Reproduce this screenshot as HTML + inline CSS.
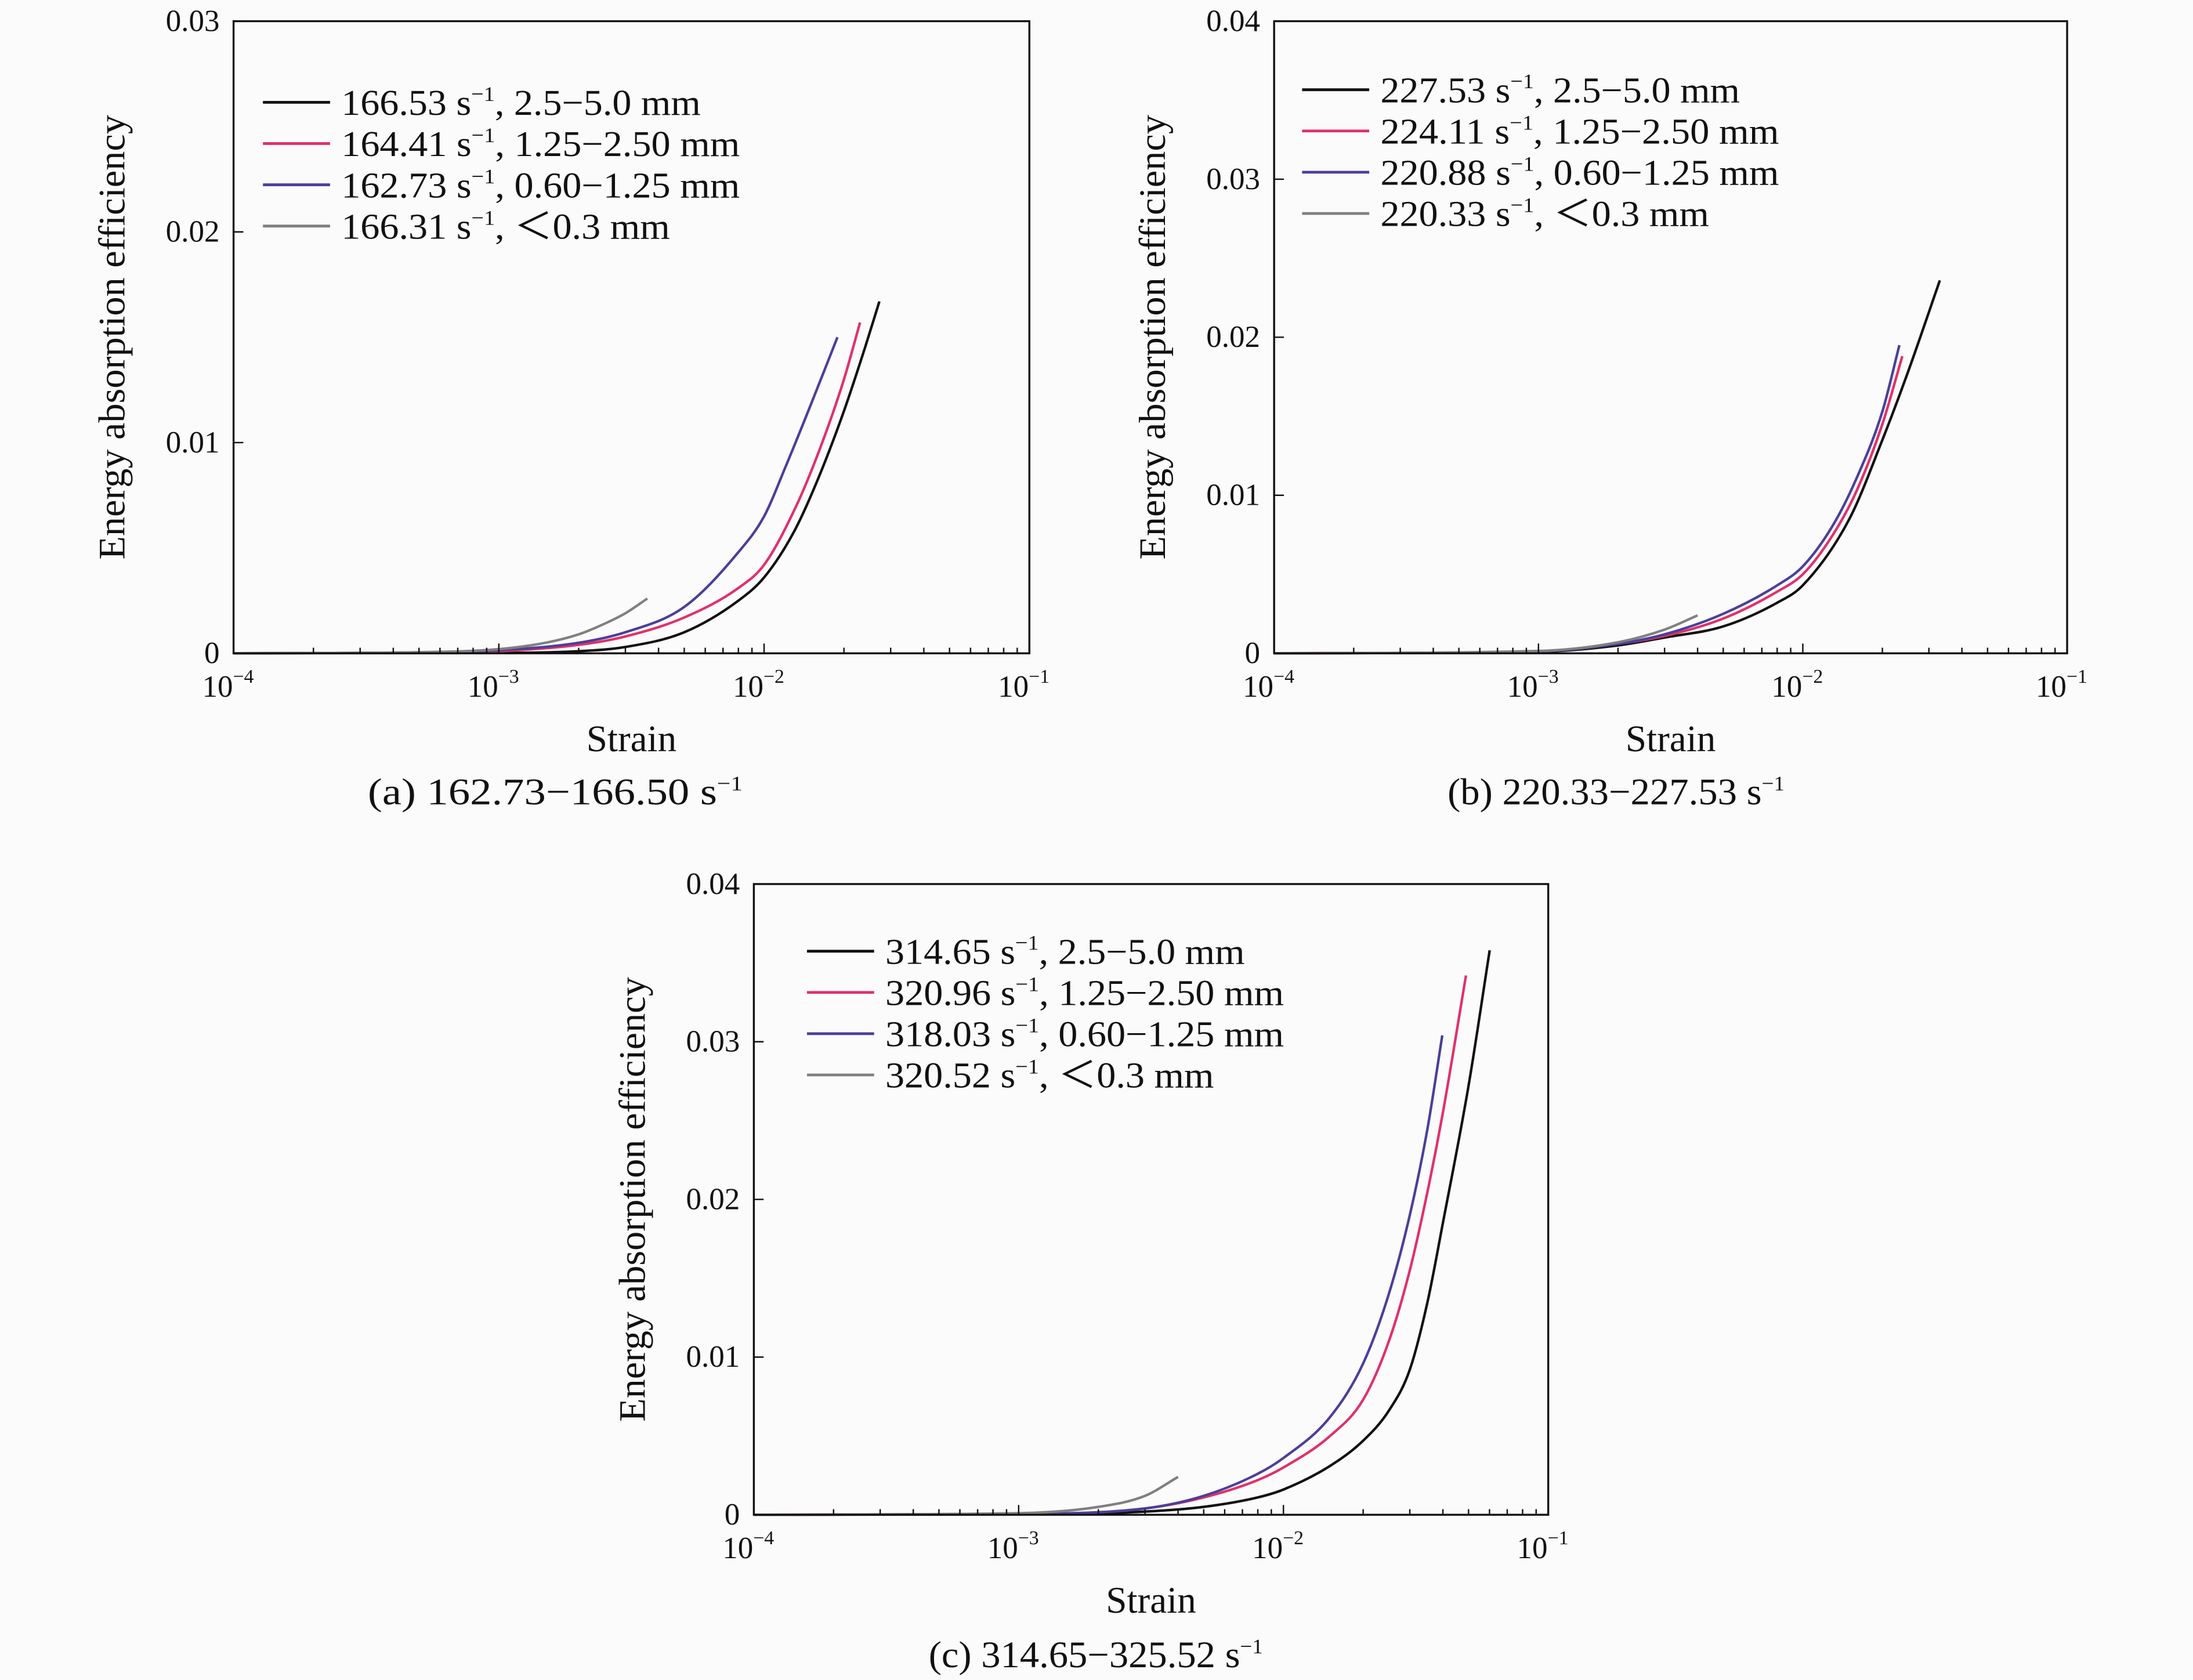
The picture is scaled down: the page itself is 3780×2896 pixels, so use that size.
<!DOCTYPE html>
<html><head><meta charset="utf-8">
<style>
html,body{margin:0;padding:0;background:#fbfbfb;}
svg{display:block;}
text{font-family:"Liberation Serif",serif;fill:#111;}
</style></head>
<body>
<svg id="fig" width="3780" height="2896" viewBox="0 0 1568 1201" xmlns="http://www.w3.org/2000/svg"></svg>
<script>
// ---- data (strain, energy absorption efficiency) ----
const seriesNames = ["2.5-5.0 mm","1.25-2.50 mm","0.60-1.25 mm","<0.3 mm"];
const seriesColors = ["#111111","#e0306a","#4a3f9a","#808080"];
// Panel a
const aLabels = ["166.53 s\u207B\u00B9, 2.5\u22125.0 mm","164.41 s\u207B\u00B9, 1.25\u22122.50 mm","162.73 s\u207B\u00B9, 0.60\u22121.25 mm","166.31 s\u207B\u00B9, \uFF1C0.3 mm"];
const aBlackX = [0.0001,0.001,0.002,0.003,0.005,0.008,0.01,0.013,0.016,0.02,0.024,0.0272];
const aBlackY = [0,0.00002,0.0001,0.0003,0.001,0.0025,0.0036,0.0058,0.0083,0.0115,0.0145,0.0167];
const aRedX = [0.0001,0.0005,0.001,0.002,0.003,0.005,0.008,0.01,0.013,0.016,0.02,0.023];
const aRedY = [0,0.00003,0.0001,0.0004,0.0008,0.0017,0.0031,0.0042,0.0068,0.0095,0.0130,0.0157];
const aBlueX = [0.0001,0.0005,0.001,0.002,0.003,0.005,0.008,0.01,0.012,0.015,0.0189];
const aBlueY = [0,0.00005,0.00015,0.0005,0.001,0.0022,0.0048,0.0065,0.0088,0.0118,0.0150];
const aGrayX = [0.0001,0.0005,0.001,0.0015,0.002,0.0025,0.003,0.00363];
const aGrayY = [0,0.00005,0.0002,0.0005,0.0009,0.0014,0.0019,0.0026];
// Panel b
const bLabels = ["227.53 s\u207B\u00B9, 2.5\u22125.0 mm","224.11 s\u207B\u00B9, 1.25\u22122.50 mm","220.88 s\u207B\u00B9, 0.60\u22121.25 mm","220.33 s\u207B\u00B9, \uFF1C0.3 mm"];
const bBlackX = [0.0001,0.001,0.002,0.003,0.005,0.008,0.01,0.015,0.02,0.025,0.033];
const bBlackY = [0,0.0001,0.0005,0.001,0.0017,0.0032,0.0043,0.0085,0.0135,0.0178,0.0236];
const bRedX = [0.0001,0.001,0.002,0.003,0.005,0.008,0.01,0.013,0.016,0.02,0.0238];
const bRedY = [0,0.00012,0.0006,0.0011,0.0022,0.0039,0.0050,0.0075,0.0103,0.0145,0.0188];
const bBlueX = [0.0001,0.001,0.002,0.003,0.005,0.008,0.01,0.013,0.016,0.02,0.0232];
const bBlueY = [0,0.00013,0.0006,0.0012,0.0025,0.0043,0.0055,0.0081,0.0111,0.0153,0.0195];
const bGrayX = [0.0001,0.001,0.002,0.003,0.004];
const bGrayY = [0,0.00015,0.0007,0.0015,0.0024];
// Panel c
const cLabels = ["314.65 s\u207B\u00B9, 2.5\u22125.0 mm","320.96 s\u207B\u00B9, 1.25\u22122.50 mm","318.03 s\u207B\u00B9, 0.60\u22121.25 mm","320.52 s\u207B\u00B9, \uFF1C0.3 mm"];
const cBlackX = [0.0001,0.001,0.003,0.005,0.008,0.01,0.015,0.02,0.025,0.03,0.035,0.04,0.05,0.0601];
const cBlackY = [0,0.00003,0.0002,0.0005,0.0011,0.0016,0.0031,0.0047,0.0066,0.0092,0.0135,0.0185,0.0272,0.0358];
const cRedX = [0.0001,0.001,0.003,0.005,0.008,0.01,0.015,0.02,0.025,0.03,0.035,0.04,0.0489];
const cRedY = [0,0.00005,0.0004,0.0011,0.0022,0.0030,0.0050,0.0073,0.0110,0.0155,0.0205,0.0255,0.0342];
const cBlueX = [0.0001,0.001,0.003,0.005,0.008,0.01,0.015,0.02,0.025,0.03,0.035,0.0398];
const cBlueY = [0,0.00006,0.0004,0.0012,0.0026,0.0036,0.0062,0.0096,0.0140,0.0190,0.0245,0.0304];
const cGrayX = [0.0001,0.001,0.002,0.003,0.004];
const cGrayY = [0,0.0001,0.0005,0.0012,0.0024];

const xTickLabels = ["10","10","10","10"];
const xTickExps = ["\u22124","\u22123","\u22122","\u22121"];

const NS = "http://www.w3.org/2000/svg";
const svg = document.getElementById("fig");
function el(tag, attrs, parent){const e=document.createElementNS(NS,tag);for(const k in attrs)e.setAttribute(k,attrs[k]);(parent||svg).appendChild(e);return e;}

function smoothPath(P){
  const n=P.length; if(n<2) return "";
  const d=[],m=[];
  for(let i=0;i<n-1;i++) d.push((P[i+1][1]-P[i][1])/(P[i+1][0]-P[i][0]));
  m[0]=d[0]; m[n-1]=d[n-2];
  for(let i=1;i<n-1;i++) m[i]=(d[i-1]*d[i]<=0)?0:(d[i-1]+d[i])/2;
  for(let i=0;i<n-1;i++){ if(d[i]===0){m[i]=0;m[i+1]=0;continue;}
    const a=m[i]/d[i],b=m[i+1]/d[i],s=a*a+b*b; if(s>9){const t=3/Math.sqrt(s);m[i]=t*a*d[i];m[i+1]=t*b*d[i];}}
  let s="M"+P[0][0].toFixed(2)+","+P[0][1].toFixed(2);
  for(let i=0;i<n-1;i++){const h=(P[i+1][0]-P[i][0])/3;
    s+=" C"+(P[i][0]+h).toFixed(2)+","+(P[i][1]+m[i]*h).toFixed(2)+" "+(P[i+1][0]-h).toFixed(2)+","+(P[i+1][1]-m[i+1]*h).toFixed(2)+" "+P[i+1][0].toFixed(2)+","+P[i+1][1].toFixed(2);}
  return s;
}

function panel(id, box, yMax, yTicks, yTickLabels, series, labels, legendPos, caption, legendWidths){
  const g = el("g",{});
  
  
  const [x0,y0,x1,y1] = box;
  const xs = v => x0 + (Math.log10(v)+4)/3*(x1-x0);
  const ys = v => y1 - v/yMax*(y1-y0);
  // series first
  series.forEach((s,i)=>{
    const P = s[0].map((v,j)=>[xs(v),ys(s[1][j])]);
    const p = el("path",{d:smoothPath(P),fill:"none",stroke:seriesColors[i],"stroke-width":1.8,"stroke-linejoin":"round"},g);
    
    
  });
  const frame = el("rect",{x:x0,y:y0,width:x1-x0,height:y1-y0,fill:"none",stroke:"#111","stroke-width":1.4},g);
  
  
  for(let d=-4; d<=-1; d++){
    for(let m=1; m<=9; m++){
      if(d===-1 && m>1) break;
      const X = xs(m*Math.pow(10,d));
      const len = m===1?7:4;
      el("line",{x1:X,y1:y1,x2:X,y2:y1-len,stroke:"#111","stroke-width":1},g);
    }
    const i = d+4;
    const t = el("text",{x:xs(Math.pow(10,d))-4,y:y1+31,"font-size":22,"text-anchor":"middle"},g);
    
    
    t.textContent = xTickLabels[i];
    const s = el("tspan",{"font-size":14,dy:-10},t);
    s.textContent = xTickExps[i];
  }
  yTicks.forEach((v,i)=>{
    const Y = ys(v);
    el("line",{x1:x0,y1:Y,x2:x0+7,y2:Y,stroke:"#111","stroke-width":1},g);
    const t = el("text",{x:x0-10,y:Y+7,"font-size":22,"text-anchor":"end"},g);
    
    
    t.textContent = yTickLabels[i];
  });
  const xt = el("text",{x:(x0+x1)/2,y:y1+70,"font-size":27,"text-anchor":"middle"},g);
  
  
  xt.textContent = "Strain";
  const yt = el("text",{x:0,y:0,"font-size":27,"text-anchor":"middle",textLength:318,lengthAdjust:"spacingAndGlyphs",transform:`translate(${x0-78},${(y0+y1)/2}) rotate(-90)`},g);
  
  
  yt.textContent = "Energy absorption efficiency";
  const [lx,ly] = legendPos;
  labels.forEach((lab,i)=>{
    const Y = ly + i*29.5;
    const ln = el("line",{x1:lx,y1:Y,x2:lx+48,y2:Y,stroke:seriesColors[i],"stroke-width":2},g);
    
    
    const t = el("text",{x:lx+56,y:Y+9,"font-size":26,textLength:legendWidths[i],lengthAdjust:"spacingAndGlyphs"},g);
    
    
    const parts = lab.split("s\u207B\u00B9");
    const a = el("tspan",{},t); a.textContent = parts[0]+"s";
    const b = el("tspan",{"font-size":15,dy:-10},t); b.textContent = "\u22121";
    const c = el("tspan",{dy:10},t); c.textContent = parts[1];
  });
  const cap = el("text",{x:caption[0],y:caption[1],"font-size":27,textLength:caption[3],lengthAdjust:"spacingAndGlyphs"},g);
  
  
  const c1 = el("tspan",{},cap); c1.textContent = caption[2]+" s";
  const c2 = el("tspan",{"font-size":15,dy:-10},cap); c2.textContent = "\u22121";
}

panel("a",[167,15,736,467],0.03,[0,0.01,0.02,0.03],["0","0.01","0.02","0.03"],
  [[aBlackX,aBlackY],[aRedX,aRedY],[aBlueX,aBlueY],[aGrayX,aGrayY]],aLabels,[188,73],[263,575,"(a) 162.73\u2212166.50",268],[257,285,285,235]);
panel("b",[911,15,1478,467],0.04,[0,0.01,0.02,0.03,0.04],["0","0.01","0.02","0.03","0.04"],
  [[bBlackX,bBlackY],[bRedX,bRedY],[bBlueX,bBlueY],[bGrayX,bGrayY]],bLabels,[931,64],[1035,575,"(b) 220.33\u2212227.53",241],[257,285,285,235]);
panel("c",[539,632,1107,1083],0.04,[0,0.01,0.02,0.03,0.04],["0","0.01","0.02","0.03","0.04"],
  [[cBlackX,cBlackY],[cRedX,cRedY],[cBlueX,cBlueY],[cGrayX,cGrayY]],cLabels,[577,680],[664,1192,"(c) 314.65\u2212325.52",239],[257,285,285,235]);
</script>
</body></html>
